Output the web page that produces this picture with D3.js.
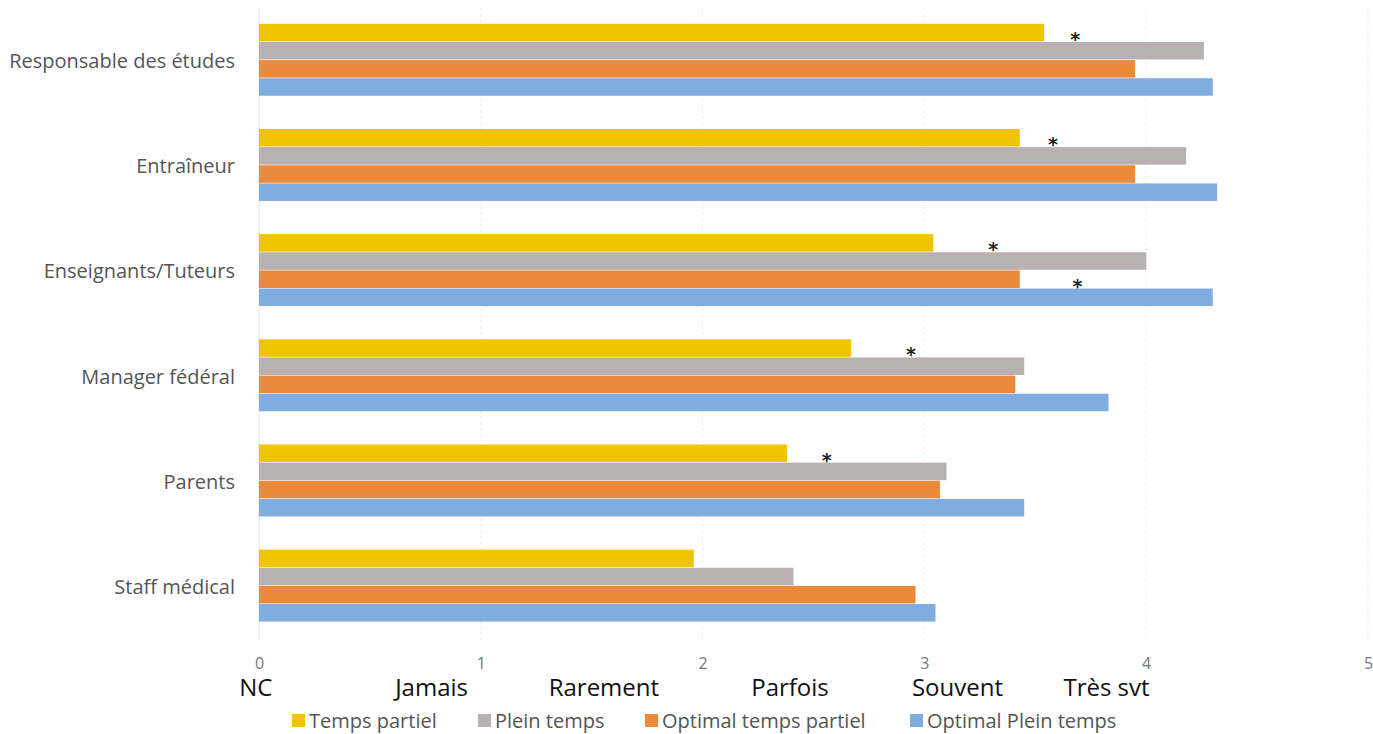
<!DOCTYPE html>
<html><head><meta charset="utf-8">
<script src="https://cdn.jsdelivr.net/npm/d3@7"></script>
<style>body{margin:0;background:#fff;}svg{display:block;}</style>
</head><body>
<svg id="chart" width="1373" height="734"></svg>
<script>
const categories = ["Responsable des études","Entraîneur","Enseignants/Tuteurs","Manager fédéral","Parents","Staff médical"];
const seriesNames = ["Temps partiel","Plein temps","Optimal temps partiel","Optimal Plein temps"];
const seriesColors = ["#F0C400","#B9B0B2","#EA8A3A","#80ACDF"];
const tempsPartiel = [3.54,3.43,3.04,2.67,2.38,1.96];
const pleinTemps = [4.26,4.18,4.00,3.45,3.10,2.41];
const optimalTempsPartiel = [3.95,3.95,3.43,3.41,3.07,2.96];
const optimalPleinTemps = [4.30,4.32,4.30,3.83,3.45,3.05];
const tickValues = [0,1,2,3,4,5];
const scaleLabels = ["NC","Jamais","Rarement","Parfois","Souvent","Très svt"];
const scaleLabelPos = [-0.014,0.778,1.555,2.394,3.149,3.821];
// significance stars: [category index, series index it sits above, x value]
const stars = [[0,1,3.68],[1,1,3.58],[2,1,3.31],[2,3,3.69],[3,1,2.94],[4,1,2.56]];

const values = [tempsPartiel,pleinTemps,optimalTempsPartiel,optimalPleinTemps];
const svg = d3.select("#chart");
const font = "'Open Sans', sans-serif";

const x = d3.scaleLinear().domain([0,5]).range([259,1368]);
const y = d3.scaleBand().domain(categories).range([7.5,638.5]).paddingInner(0.31).paddingOuter(0.155);
const ys = d3.scaleBand().domain(d3.range(4)).range([0,y.bandwidth()]);

// gridlines
svg.append("g").selectAll("line").data(tickValues).join("line")
  .attr("x1",d=>x(d)).attr("x2",d=>x(d)).attr("y1",8).attr("y2",640)
  .attr("stroke",d=>d===0?"#e4e4e4":"#ececec").attr("stroke-width",1)
  .attr("stroke-dasharray",d=>d===0?null:"3,3");

// bars
const g = svg.append("g");
categories.forEach((c,ci)=>{
  values.forEach((arr,si)=>{
    g.append("rect")
      .attr("x",x(0)).attr("y",y(c)+ys(si))
      .attr("width",x(arr[ci])-x(0)).attr("height",ys.bandwidth()-0.6)
      .attr("fill",seriesColors[si]);
  });
});

// stars
svg.append("g").selectAll("text").data(stars).join("text")
  .attr("x",d=>x(d[2])).attr("y",d=>y(categories[d[0]])+ys(d[1])+4)
  .attr("text-anchor","middle").attr("font-family","'DejaVu Sans', sans-serif")
  .attr("font-size",19).attr("font-weight","bold").attr("fill","#222").text("*");

// category labels
svg.append("g").selectAll("text").data(categories).join("text")
  .attr("x",235).attr("y",d=>y(d)+y.bandwidth()/2+1).attr("dy","0.35em")
  .attr("text-anchor","end").attr("font-family",font).attr("font-size",20)
  .attr("fill","#555").text(d=>d);

// x axis numbers
const xAxis = d3.axisBottom(x).tickValues(tickValues).tickSize(0).tickPadding(0).tickFormat(d3.format("d"));
const ax = svg.append("g").attr("transform","translate(0,658)").call(xAxis);
ax.select(".domain").remove();
ax.selectAll("text").attr("font-family",font).attr("font-size",16).attr("fill","#777").attr("dy","0.71em");

// scale labels
svg.append("g").selectAll("text").data(scaleLabels).join("text")
  .attr("x",(d,i)=>x(scaleLabelPos[i])).attr("y",696)
  .attr("text-anchor","middle")
  .attr("font-family",font).attr("font-size",24).attr("fill","#111").text(d=>d);

// legend
const legX = [292,478,645,910];
const leg = svg.append("g");
seriesNames.forEach((n,i)=>{
  leg.append("rect").attr("x",legX[i]).attr("y",714).attr("width",13).attr("height",13).attr("fill",seriesColors[i]);
  leg.append("text").attr("x",legX[i]+17).attr("y",728).attr("font-family",font).attr("font-size",20).attr("fill","#555").text(n);
});
</script>
</body></html>
